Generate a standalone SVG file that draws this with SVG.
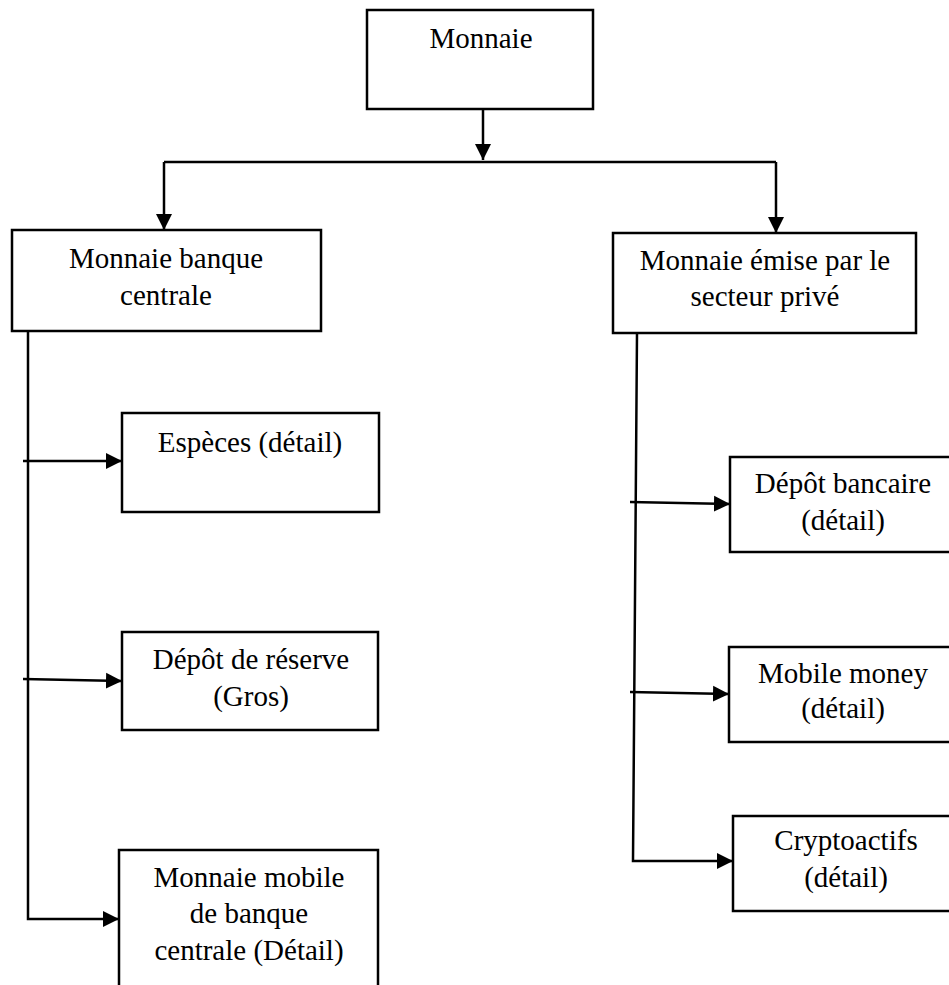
<svg xmlns="http://www.w3.org/2000/svg" width="949" height="985" viewBox="0 0 949 985">
<defs>
<marker id="arr" markerUnits="userSpaceOnUse" markerWidth="18" markerHeight="18" viewBox="0 0 18 18" refX="16" refY="9" orient="auto">
<path d="M0,1 L16,9 L0,17 Z" fill="#000"/>
</marker>
</defs>
<style>
.box{fill:#fff;stroke:#000;stroke-width:2.5}
.t{font-family:"Liberation Serif","Times New Roman",serif;font-size:29px;fill:#000;text-anchor:middle}
.c{fill:none;stroke:#000;stroke-width:2.5}
</style>
<rect width="949" height="985" fill="#fff"/>
<g id="connectors">
<path class="c" d="M483,109 V160" marker-end="url(#arr)"/>
<path class="c" d="M164,162 H776"/>
<path class="c" d="M164,162 V230" marker-end="url(#arr)"/>
<path class="c" d="M776,162 V233" marker-end="url(#arr)"/>
<path class="c" d="M28,331 V919 H119" marker-end="url(#arr)"/>
<path class="c" d="M23,461 H122" marker-end="url(#arr)"/>
<path class="c" d="M23,679 L122,681" marker-end="url(#arr)"/>
<path class="c" d="M637,333 L633,861 H733" marker-end="url(#arr)"/>
<path class="c" d="M630,502 L730,504" marker-end="url(#arr)"/>
<path class="c" d="M630,692 L729,694" marker-end="url(#arr)"/>
</g>
<g id="monnaie">
<rect class="box" x="367" y="10" width="226" height="99"/>
<text class="t" x="481" y="48">Monnaie</text>
</g>
<g id="banque-centrale">
<rect class="box" x="12" y="230" width="309" height="101"/>
<text class="t" x="166" y="268">Monnaie banque</text>
<text class="t" x="166" y="305">centrale</text>
</g>
<g id="secteur-prive">
<rect class="box" x="613" y="233" width="303" height="100"/>
<text class="t" x="765" y="270">Monnaie émise par le</text>
<text class="t" x="765" y="306">secteur privé</text>
</g>
<g id="especes">
<rect class="box" x="122" y="413" width="257" height="99"/>
<text class="t" x="250" y="452">Espèces (détail)</text>
</g>
<g id="depot-reserve">
<rect class="box" x="122" y="632" width="256" height="98"/>
<text class="t" x="251" y="669">Dépôt de réserve</text>
<text class="t" x="251" y="706">(Gros)</text>
</g>
<g id="monnaie-mobile-bc">
<rect class="box" x="119" y="850" width="259" height="150"/>
<text class="t" x="249" y="887">Monnaie mobile</text>
<text class="t" x="249" y="923">de banque</text>
<text class="t" x="249" y="960">centrale (Détail)</text>
</g>
<g id="depot-bancaire">
<rect class="box" x="730" y="457" width="230" height="95"/>
<text class="t" x="843" y="493">Dépôt bancaire</text>
<text class="t" x="843" y="530">(détail)</text>
</g>
<g id="mobile-money">
<rect class="box" x="729" y="647" width="231" height="95"/>
<text class="t" x="843" y="683">Mobile money</text>
<text class="t" x="843" y="718">(détail)</text>
</g>
<g id="cryptoactifs">
<rect class="box" x="733" y="816" width="227" height="95"/>
<text class="t" x="846" y="850">Cryptoactifs</text>
<text class="t" x="846" y="887">(détail)</text>
</g>
</svg>
